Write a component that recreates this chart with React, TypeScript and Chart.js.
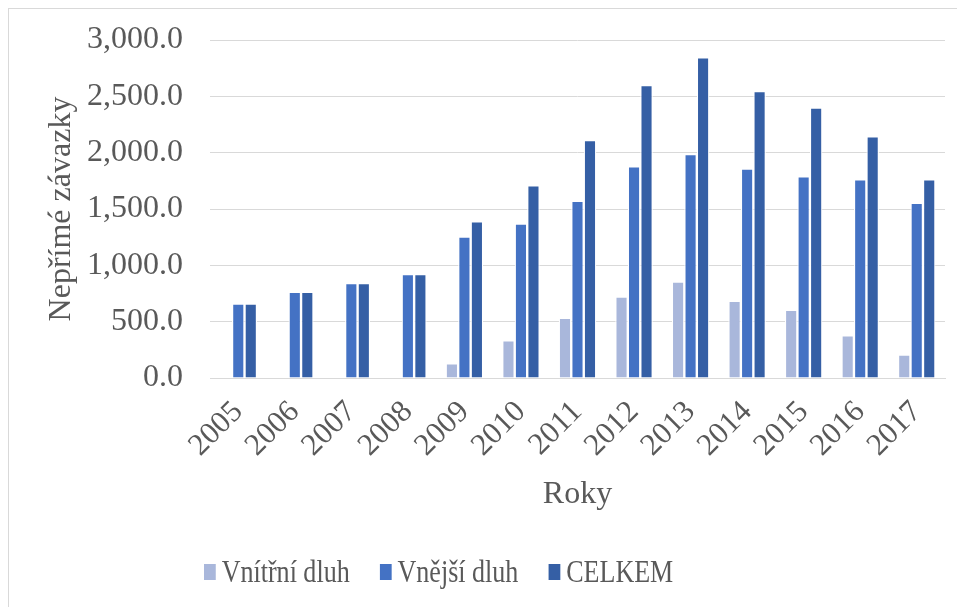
import React, { useEffect, useRef } from 'react';
import { Chart, registerables } from 'chart.js';

Chart.register(...registerables);

const years = ['2005', '2006', '2007', '2008', '2009', '2010', '2011', '2012', '2013', '2014', '2015', '2016', '2017'];
const vnitrniDluh = [null, null, null, null, 130, 335, 535, 722, 855, 685, 605, 380, 208];
const vnejsiDluh = [660, 766, 842, 922, 1255, 1370, 1572, 1880, 1987, 1858, 1790, 1764, 1554];
const celkem = [660, 766, 842, 922, 1390, 1710, 2112, 2600, 2846, 2547, 2400, 2146, 1764];
const seriesNames = ['Vnítřní dluh', 'Vnější dluh', 'CELKEM'];
const seriesColors = ['#A9B7DB', '#4472C4', '#355FA5'];
const yTitle = 'Nepřímé závazky';
const xTitle = 'Roky';

const FONT = '"Liberation Serif", "Times New Roman", serif';
const TEXT = '#595959';
const GRID = '#D9D9D9';

const legendPlugin = {
  id: 'customLegend',
  afterDraw(chart: any) {
    const ctx = chart.ctx;
    const sx = 0.84;
    const startX = 195;
    const baseY = 573;
    ctx.save();
    ctx.translate(startX, 0);
    ctx.scale(sx, 1);
    ctx.font = `31px ${FONT}`;
    ctx.textBaseline = 'alphabetic';
    ctx.textAlign = 'left';
    let x = 0;
    chart.data.datasets.forEach((ds: any) => {
      ctx.fillStyle = ds.backgroundColor;
      ctx.fillRect(x, baseY - 18, 14, 16);
      x += 14 + 7;
      ctx.fillStyle = TEXT;
      ctx.fillText(ds.label, x, baseY);
      x += ctx.measureText(ds.label).width + 36;
    });
    ctx.restore();
  },
};

export default function App() {
  const ref = useRef<HTMLCanvasElement>(null);

  useEffect(() => {
    if (!ref.current) return;
    const values = [vnitrniDluh, vnejsiDluh, celkem];
    const chart = new Chart(ref.current, {
      type: 'bar',
      data: {
        labels: years,
        datasets: values.map((v, i) => ({
          label: seriesNames[i],
          data: v,
          backgroundColor: seriesColors[i],
          borderColor: '#FFFFFF',
          borderWidth: 1.2,
          barPercentage: 1,
          categoryPercentage: 0.663,
        })),
      },
      options: {
        animation: false,
        responsive: false,
        devicePixelRatio: 1,
        layout: { padding: { left: 0, right: 20, top: 31, bottom: 80 } },
        plugins: {
          legend: { display: false },
          tooltip: { enabled: false },
        },
        scales: {
          x: {
            grid: { display: false },
            border: { display: true, color: GRID, width: 1 },
            ticks: {
              color: TEXT,
              font: { family: FONT, size: 31 },
              minRotation: 45,
              maxRotation: 45,
              autoSkip: false,
              padding: 8,
            },
            title: {
              display: true,
              text: xTitle,
              color: TEXT,
              font: { family: FONT, size: 32 },
              padding: { top: 0, bottom: 13 },
            },
            afterFit(scale: any) {
              scale.height = 149;
              scale.paddingLeft = 0;
              scale.paddingRight = 0;
            },
          },
          y: {
            min: 0,
            max: 3000,
            ticks: {
              stepSize: 500,
              color: TEXT,
              font: { family: FONT, size: 32 },
              padding: 27,
              callback: (v: any) =>
                Number(v).toLocaleString('en-US', { minimumFractionDigits: 1, maximumFractionDigits: 1 }),
            },
            grid: { color: GRID, lineWidth: 1, drawTicks: false },
            border: { display: false },
            title: {
              display: true,
              text: yTitle,
              color: TEXT,
              font: { family: FONT, size: 32 },
              padding: { top: 33, bottom: 0 },
            },
            afterFit(scale: any) {
              scale.width = 201;
              scale.paddingTop = 0;
              scale.paddingBottom = 0;
            },
          },
        },
      },
      plugins: [legendPlugin],
    });
    return () => chart.destroy();
  }, []);

  return (
    <div
      style={{
        borderLeft: '1px solid #D9D9D9',
        borderTop: '1px solid #D9D9D9',
        width: 956,
        height: 598,
        background: '#FFFFFF',
      }}
    >
      <canvas ref={ref} width={956} height={598} style={{ display: 'block' }} />
    </div>
  );
}
